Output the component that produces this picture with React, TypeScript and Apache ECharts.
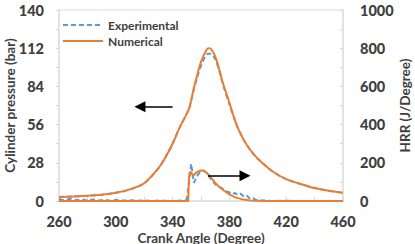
import React, { useEffect, useRef } from "react";
import * as echarts from "echarts";

// Cylinder pressure (bar) vs crank angle (degree)
const pressureAngles = [260, 270, 280, 290, 300, 310, 320, 330, 335, 340, 345, 350, 352, 355, 358, 360, 362, 363, 365, 367, 370, 373, 375, 380, 385, 390, 395, 400, 410, 420, 430, 440, 450, 460];
const pressureNumerical = [3, 3.3, 3.8, 4.6, 6, 8.5, 13, 24, 32, 42, 54, 64, 69, 83, 95, 102, 107, 109, 112, 111.5, 106, 96, 88, 72, 56, 45, 37, 31, 22, 16, 12.5, 9.5, 7.5, 6];
const pressureExperimental = [3, 3.3, 3.8, 4.6, 6, 8.5, 13, 24, 32, 42, 54, 64, 69, 82, 93, 99, 104, 106, 108, 108, 104, 95, 87, 71, 56, 45, 37, 31, 22, 16, 12.5, 9.5, 7.5, 6];

// Heat release rate (J/Degree) vs crank angle (degree)
const hrrAnglesNum = [260, 300, 340, 350, 351, 351.5, 352, 353, 354, 355, 356, 358, 360, 362, 364, 366, 368, 370, 372, 374, 376, 378, 380, 382, 384, 386, 388, 390, 395, 400, 410, 460];
const hrrNumerical = [0, 0, 0, 0, 0, 120, 150, 150, 138, 135, 145, 155, 160, 158, 148, 132, 113, 95, 80, 67, 55, 45, 35, 27, 20, 15, 11, 8, 3, 1, 0, 0];

const hrrAnglesExp = [260, 264, 268, 272, 276, 280, 284, 288, 292, 296, 300, 305, 310, 315, 320, 325, 330, 335, 340, 345, 348, 350, 352, 353, 354, 355, 356, 358, 360, 362, 364, 366, 368, 370, 372, 374, 376, 378, 380, 382, 384, 386, 388, 390, 392, 394, 396, 398, 400, 405, 410, 420, 430, 440, 450, 460];
const hrrExperimental = [10, 3, 12, 4, 9, 2, 8, 3, 7, 1, 5, 2, 4, 1, 3, 0, 2, 1, 0, 2, 0, 10, 120, 195, 150, 95, 110, 140, 155, 160, 145, 125, 105, 88, 76, 70, 60, 52, 45, 35, 42, 30, 38, 25, 30, 15, 20, 8, 5, 2, 0, 1, 0, 0, 0, 0];

// Direction arrows: [angle, pressure] start and end points
const arrowToPressure = [[340, 69], [317, 69]];
const arrowToHrr = [[365, 18.5], [391, 18.5]];

const xTicks = { min: 260, max: 460, interval: 40 };
const pressureTicks = { min: 0, max: 140, interval: 28 };
const hrrTicks = { min: 0, max: 1000, interval: 200 };

const ORANGE = "#ED7D31";
const BLUE = "#5B9BD5";
const TEXT = "#404040";
const AXIS = "#D9D9D9";
const FONT = "Lato";

const zip = (xs: number[], ys: number[]) => xs.map((x, i) => [x, ys[i]]);

export default function App() {
  const ref = useRef<HTMLDivElement>(null);

  useEffect(() => {
    if (!ref.current) return;
    const chart = echarts.init(ref.current, undefined, { renderer: "svg" });

    const axisLabel = { color: TEXT, fontFamily: FONT, fontWeight: 900 as const, fontSize: 14.5 };
    const nameStyle = { color: TEXT, fontFamily: FONT, fontWeight: "bold" as const, fontSize: 13.5 };

    const arrowLine = (pts: number[][]) => ({
      silent: true,
      symbol: ["none", "triangle"],
      symbolSize: [11, 11],
      label: { show: false },
      lineStyle: { color: "#000", width: 1.6, type: "solid" as const },
      data: [[{ coord: pts[0], symbol: "none" }, { coord: pts[1], symbol: "triangle", symbolRotate: pts[1][0] > pts[0][0] ? -90 : 90 }]],
    });

    const expLine = { color: BLUE, width: 2, type: [5, 3] as number[] };
    const numLine = { color: ORANGE, width: 2 };

    chart.setOption({
      animation: false,
      grid: { left: 59, right: 72, top: 10, bottom: 43, outerBoundsMode: "none", containLabel: false },
      legend: {
        data: ["Experimental", "Numerical"],
        orient: "vertical",
        left: 62,
        top: 19,
        itemWidth: 40,
        itemHeight: 10,
        itemGap: 4,
        padding: 0,
        itemStyle: { opacity: 0 },
        textStyle: { color: TEXT, fontFamily: FONT, fontWeight: "bold", fontSize: 12 },
      },
      xAxis: {
        type: "value",
        ...xTicks,
        name: "Crank Angle (Degree)",
        nameLocation: "middle",
        nameGap: 30,
        nameMoveOverlap: false,
        nameTextStyle: nameStyle,
        axisLine: { show: true, lineStyle: { color: AXIS, width: 1.5 } },
        axisTick: { show: true, inside: true, length: 4, lineStyle: { color: AXIS } },
        minorTick: { show: true, splitNumber: 2, length: 4, lineStyle: { color: AXIS } },
        splitLine: { show: false },
        axisLabel: { ...axisLabel, margin: 13 },
      },
      yAxis: [
        {
          type: "value",
          ...pressureTicks,
          name: "Cylinder pressure (bar)",
          nameLocation: "middle",
          nameGap: 42,
          nameMoveOverlap: false,
          nameTextStyle: nameStyle,
          axisLine: { show: true, lineStyle: { color: AXIS, width: 1.5 } },
          axisTick: { show: true, length: 3, lineStyle: { color: AXIS } },
          minorTick: { show: true, splitNumber: 2, length: 3, lineStyle: { color: AXIS } },
          splitLine: { show: false },
          axisLabel: { ...axisLabel, margin: 15 },
        },
        {
          type: "value",
          ...hrrTicks,
          name: "HRR (J/Degree)",
          nameLocation: "middle",
          nameGap: 55,
          nameRotate: 90,
          nameMoveOverlap: false,
          nameTextStyle: nameStyle,
          axisLine: { show: true, lineStyle: { color: AXIS, width: 1.5 } },
          axisTick: { show: true, inside: true, length: 3, lineStyle: { color: AXIS } },
          minorTick: { show: true, splitNumber: 2, length: 3, lineStyle: { color: AXIS } },
          splitLine: { show: false },
          axisLabel: { ...axisLabel, margin: 17, formatter: (v: number) => String(v) },
        },
      ],
      graphic: [
        // top border of the plot frame
        { type: "line", shape: { x1: 59, y1: 10, x2: 343, y2: 10 }, style: { stroke: AXIS, lineWidth: 1.2 } },
      ],
      series: [
        {
          name: "Experimental",
          type: "line",
          yAxisIndex: 1,
          data: zip(hrrAnglesExp, hrrExperimental),
          symbol: "none",
          lineStyle: expLine,
          itemStyle: { color: BLUE },
          z: 2,
        },
        {
          name: "Numerical",
          type: "line",
          yAxisIndex: 1,
          data: zip(hrrAnglesNum, hrrNumerical),
          symbol: "none",
          lineStyle: numLine,
          itemStyle: { color: ORANGE },
          z: 3,
          markLine: arrowLine(arrowToHrr.map(([a, p]) => [a, (p / 140) * 1000])),
        },
        {
          name: "Experimental",
          type: "line",
          yAxisIndex: 0,
          data: zip(pressureAngles, pressureExperimental),
          symbol: "none",
          smooth: 0.3,
          lineStyle: expLine,
          itemStyle: { color: BLUE },
          z: 2,
        },
        {
          name: "Numerical",
          type: "line",
          yAxisIndex: 0,
          data: zip(pressureAngles, pressureNumerical),
          symbol: "none",
          smooth: 0.3,
          lineStyle: numLine,
          itemStyle: { color: ORANGE },
          z: 3,
          markLine: arrowLine(arrowToPressure),
        },
      ],
    });

    return () => chart.dispose();
  }, []);

  return <div ref={ref} style={{ position: "absolute", left: 0, top: 0, width: 415, height: 244 }} />;
}
